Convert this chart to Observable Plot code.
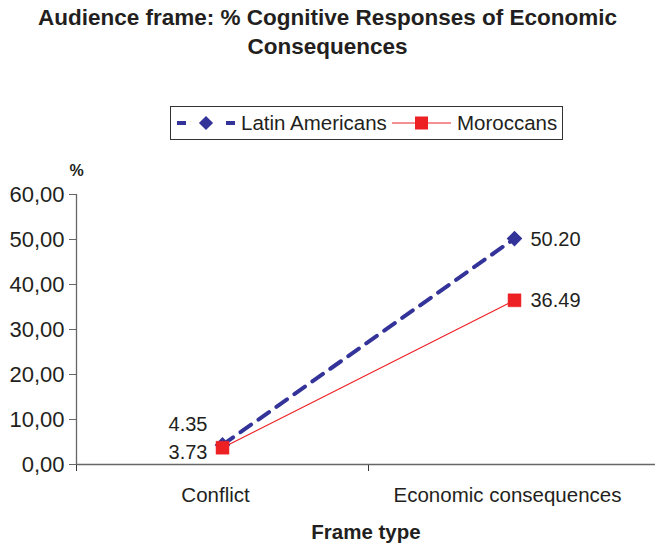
<!DOCTYPE html>
<html>
<head>
<meta charset="utf-8">
<script src="https://cdn.jsdelivr.net/npm/d3@7"></script>
<script src="https://cdn.jsdelivr.net/npm/@observablehq/plot@0.6"></script>
<style>
  html, body { margin: 0; padding: 0; background: #fff; overflow: hidden; }
  #wrap { position: relative; width: 655px; height: 544px; font-family: "Liberation Sans", Arial, sans-serif; color: #231f20; }
  #title { position: absolute; left: 0; top: 3px; width: 655px; text-align: center; font-weight: bold; font-size: 22.5px; line-height: 29px; }
  #legend { position: absolute; left: 170px; top: 106px; width: 391px; height: 32px; border: 1px solid #333; background: #fff; }
  #legend svg { position: absolute; left: 0; top: 0; }
  #plot { position: absolute; left: 0; top: 0; }
</style>
</head>
<body>
<div id="wrap">
  <div id="plot"></div>
  <div id="title">Audience frame: % Cognitive Responses of Economic<br>Consequences</div>
  <div id="legend"></div>
</div>
<script>
const categories = ["Conflict", "Economic consequences"];
const latinAmericans = [4.35, 50.20];
const moroccans = [3.73, 36.49];
const yTicks = [0, 10, 20, 30, 40, 50, 60];
const seriesNames = ["Latin Americans", "Moroccans"];

const blue = "#333399";
const red = "#ed2024";
const axisColor = "#666";
const font = "'Liberation Sans', Arial, sans-serif";

const latinData = categories.map((c, i) => ({cat: c, i, series: seriesNames[0], value: latinAmericans[i]}));
const moroccoData = categories.map((c, i) => ({cat: c, i, series: seriesNames[1], value: moroccans[i]}));
const xPos = d => d.i + 0.5;

const fmtComma = d => d.toFixed(2).replace(".", ",");

const chart = Plot.plot({
  width: 655,
  height: 544,
  marginLeft: 76,
  marginRight: 0,
  marginTop: 194,
  marginBottom: 80,
  style: {fontFamily: font, fontSize: "20px", color: "#231f20", background: "transparent"},
  x: {type: "linear", domain: [0, 2], range: [76, 660]},
  y: {domain: [0, 60]},
  marks: [
    Plot.axisY({ticks: yTicks, tickFormat: fmtComma, tickSize: 7, tickPadding: 5, fontSize: 22, label: null, stroke: axisColor}),
    Plot.axisX({ticks: [0, 1], tickFormat: () => "", tickSize: 7, label: null, stroke: "#333"}),
    Plot.axisX({ticks: [0.5, 1.5], tickFormat: d => categories[Math.floor(d)], tickSize: 0, tickPadding: 23, dx: -7, fontSize: 20.5, label: null}),
    Plot.ruleX([0], {stroke: axisColor, strokeWidth: 1.3}),
    Plot.ruleY([0], {stroke: axisColor, strokeWidth: 1.3}),
    Plot.text(["%"], {frameAnchor: "top-left", dy: -30, dx: 0, text: d => d, fontWeight: "bold", fontSize: 16, textAnchor: "middle"}),
    Plot.text(["Frame type"], {frameAnchor: "bottom", dy: 74, text: d => d, fontWeight: "bold", fontSize: 20.5}),
    Plot.line(moroccoData, {x: xPos, y: "value", stroke: red, strokeWidth: 1.2}),
    Plot.line(latinData, {x: xPos, y: "value", stroke: blue, strokeWidth: 4, strokeDasharray: "13,9"}),
    Plot.dot(latinData, {x: xPos, y: "value", symbol: "square", rotate: 45, r: 5.4, fill: blue, stroke: blue}),
    Plot.dot(moroccoData, {x: xPos, y: "value", symbol: "square", r: 7.3, fill: red, stroke: red, strokeWidth: 0.5}),
    Plot.text(latinData.filter(d => d.i === 0), {x: xPos, y: "value", text: d => d.value.toFixed(2), textAnchor: "end", dx: -15, dy: -20, fontSize: 20}),
    Plot.text(moroccoData.filter(d => d.i === 0), {x: xPos, y: "value", text: d => d.value.toFixed(2), textAnchor: "end", dx: -15, dy: 5, fontSize: 20}),
    Plot.text(latinData.filter(d => d.i === 1), {x: xPos, y: "value", text: d => d.value.toFixed(2), textAnchor: "start", dx: 16, dy: 1, fontSize: 20}),
    Plot.text(moroccoData.filter(d => d.i === 1), {x: xPos, y: "value", text: d => d.value.toFixed(2), textAnchor: "start", dx: 16, dy: 0, fontSize: 20})
  ]
});
document.getElementById("plot").appendChild(chart);

// Legend
const lg = d3.select("#legend").append("svg").attr("width", 391).attr("height", 32)
  .style("font-family", font).style("font-size", "20.5px");
lg.append("line").attr("x1", 6).attr("x2", 15).attr("y1", 16).attr("y2", 16).attr("stroke", blue).attr("stroke-width", 4);
lg.append("line").attr("x1", 55).attr("x2", 64).attr("y1", 16).attr("y2", 16).attr("stroke", blue).attr("stroke-width", 4);
lg.append("path").attr("d", d3.symbol(d3.symbolSquare, 100)()).attr("transform", "translate(35,16) rotate(45)").attr("fill", blue);
lg.append("text").attr("x", 70).attr("y", 16).attr("dy", "0.35em").attr("fill", "#231f20").text(seriesNames[0]);
lg.append("line").attr("x1", 221).attr("x2", 280).attr("y1", 16).attr("y2", 16).attr("stroke", red).attr("stroke-width", 1.2);
lg.append("rect").attr("x", 244).attr("y", 9.5).attr("width", 13).attr("height", 13).attr("fill", red);
lg.append("text").attr("x", 286).attr("y", 16).attr("dy", "0.35em").attr("fill", "#231f20").text(seriesNames[1]);
</script>
</body>
</html>
